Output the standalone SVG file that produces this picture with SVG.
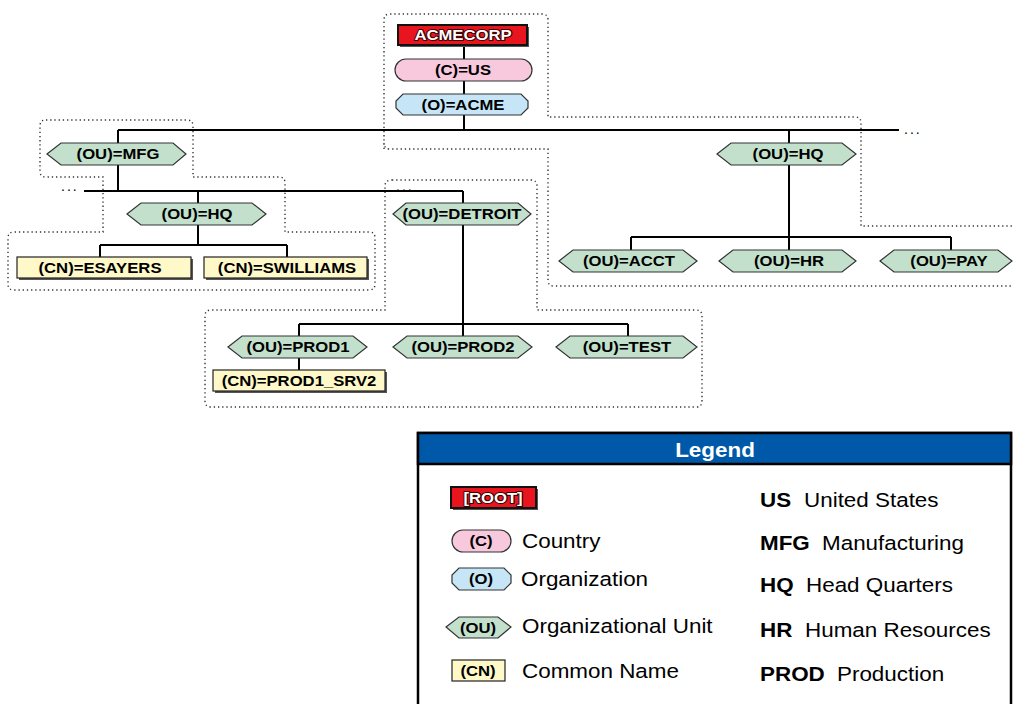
<svg xmlns="http://www.w3.org/2000/svg" width="1013" height="704" viewBox="0 0 1013 704">
<defs>
<style>
.n{font-family:"Liberation Sans",Arial,sans-serif;font-weight:bold;font-size:14.5px;fill:#000;text-anchor:middle}
.r{font-family:"Liberation Sans",Arial,sans-serif;font-weight:bold;font-size:14.5px;fill:#fff;text-anchor:middle;stroke:#300;stroke-width:2;paint-order:stroke;stroke-linejoin:round}
.ou{fill:#c2e0cc;stroke:#333;stroke-width:1.2}
.cn{fill:#fff8c8;stroke:#222;stroke-width:1.2}
.sh{fill:#555}
.c{fill:#f8c9dd;stroke:#333;stroke-width:1.2}
.o{fill:#c6e6f7;stroke:#333;stroke-width:1.2}
.root{fill:#e8141e;stroke:#111;stroke-width:2}
.e{stroke:#000;stroke-width:2;fill:none}
.d{stroke:#333;stroke-width:1.4;fill:none;stroke-dasharray:1.3 2.9}
.dots{font-family:"Liberation Sans",Arial,sans-serif;font-size:14px;fill:#000;letter-spacing:2px}
.lt{font-family:"Liberation Sans",Arial,sans-serif;font-size:19.5px;fill:#000}
.lb{font-family:"Liberation Sans",Arial,sans-serif;font-size:19.5px;font-weight:bold;fill:#000}
</style>
</defs>
<rect width="1013" height="704" fill="#fff"/>

<g id="partitions">
<path class="d" d="M384 149 L384 20 Q384 14 390 14 L542 14 Q548 14 548 20 L548 117 L855 117 Q861 117 861 123 L861 226 L1015 226 M1015 286 L554 286 Q548 286 548 280 L548 149 L390 149 Q384 149 384 143"/>
<path class="d" d="M46 120 L187 120 Q193 120 193 126 L193 177 L279 177 Q285 177 285 183 L285 232 L369 232 Q375 232 375 238 L375 284 Q375 290 369 290 L14 290 Q8 290 8 284 L8 238 Q8 232 14 232 L103 232 L103 177 L46 177 Q40 177 40 171 L40 126 Q40 120 46 120 Z"/>
<path class="d" d="M392 180 L531 180 Q537 180 537 186 L537 310 L696 310 Q702 310 702 316 L702 401 Q702 407 696 407 L211 407 Q205 407 205 401 L205 316 Q205 310 211 310 L385 310 L385 186 Q385 180 392 180 Z"/>
</g>

<g id="connectors">
<path class="e" d="M464 45 V130"/>
<path class="e" d="M118 130 H899"/>
<path class="e" d="M118 130 V143 M118 165 V191"/>
<path class="e" d="M84 191 H463"/>
<path class="e" d="M198 191 V203 M198 225 V245 M100 245 H287 M100 245 V257 M287 245 V257"/>
<path class="e" d="M463 191 V203 M463 225 V336 M299 324 H628 M299 324 V336 M628 324 V336 M299 358 V370"/>
<path class="e" d="M789 130 V143 M789 165 V250 M631 237 H951 M631 237 V250 M951 237 V250"/>
<text class="dots" x="904" y="134">...</text>
<text class="dots" x="61" y="191">...</text>
<text class="dots" x="396" y="191">...</text>
</g>

<g id="acmecorp">
<rect class="sh" x="400" y="27" width="129" height="20"/>
<rect class="root" x="398" y="25" width="129" height="20"/>
<text class="r" transform="translate(463 40) scale(1.15 1)">ACMECORP</text>
</g>
<g id="c-us">
<rect class="c" x="395" y="59" width="137" height="22" rx="11"/>
<text class="n" transform="translate(463 75) scale(1.15 1)">(C)=US</text>
</g>
<g id="o-acme">
<polygon class="o" points="403,94 521,94 528,101 528,108 521,115 403,115 396,108 396,101"/>
<text class="n" transform="translate(463 110) scale(1.15 1)">(O)=ACME</text>
</g>

<g id="ou-mfg">
<polygon class="ou" points="47,154 61,143 173,143 186,154 173,165 61,165"/>
<text class="n" transform="translate(118 159) scale(1.15 1)">(OU)=MFG</text>
</g>
<g id="ou-hq-mfg">
<polygon class="ou" points="127,214 141,203 252,203 266,214 252,225 141,225"/>
<text class="n" transform="translate(197 219) scale(1.15 1)">(OU)=HQ</text>
</g>
<g id="cn-esayers">
<rect class="sh" x="19" y="259" width="174" height="21"/>
<rect class="cn" x="17" y="257" width="174" height="21"/>
<text class="n" transform="translate(100 273) scale(1.15 1)">(CN)=ESAYERS</text>
</g>
<g id="cn-swilliams">
<rect class="sh" x="206" y="259" width="163" height="21"/>
<rect class="cn" x="204" y="257" width="163" height="21"/>
<text class="n" transform="translate(287 273) scale(1.15 1)">(CN)=SWILLIAMS</text>
</g>
<g id="ou-detroit">
<polygon class="ou" points="393,214 406,203 518,203 531,214 518,225 406,225"/>
<text class="n" transform="translate(462 219) scale(1.15 1)">(OU)=DETROIT</text>
</g>
<g id="ou-prod1">
<polygon class="ou" points="228,347 242,336 353,336 367,347 353,358 242,358"/>
<text class="n" transform="translate(298 352) scale(1.15 1)">(OU)=PROD1</text>
</g>
<g id="ou-prod2">
<polygon class="ou" points="393,347 407,336 518,336 532,347 518,358 407,358"/>
<text class="n" transform="translate(463 352) scale(1.15 1)">(OU)=PROD2</text>
</g>
<g id="ou-test">
<polygon class="ou" points="556,347 570,336 683,336 697,347 683,358 570,358"/>
<text class="n" transform="translate(627 352) scale(1.15 1)">(OU)=TEST</text>
</g>
<g id="cn-prod1-srv2">
<rect class="sh" x="215" y="372" width="172" height="21"/>
<rect class="cn" x="213" y="370" width="172" height="21"/>
<text class="n" transform="translate(299 386) scale(1.15 1)">(CN)=PROD1_SRV2</text>
</g>
<g id="ou-hq">
<polygon class="ou" points="717,154 731,143 842,143 856,154 842,165 731,165"/>
<text class="n" transform="translate(788 159) scale(1.15 1)">(OU)=HQ</text>
</g>
<g id="ou-acct">
<polygon class="ou" points="559,261 573,250 683,250 697,261 683,272 573,272"/>
<text class="n" transform="translate(629 266) scale(1.15 1)">(OU)=ACCT</text>
</g>
<g id="ou-hr">
<polygon class="ou" points="719,261 733,250 842,250 856,261 842,272 733,272"/>
<text class="n" transform="translate(789 266) scale(1.15 1)">(OU)=HR</text>
</g>
<g id="ou-pay">
<polygon class="ou" points="880,261 894,250 998,250 1012,261 998,272 894,272"/>
<text class="n" transform="translate(949 266) scale(1.15 1)">(OU)=PAY</text>
</g>

<g id="legend">
<rect x="418" y="433" width="593" height="280" fill="#fff" stroke="#000" stroke-width="2.5"/>
<rect x="418" y="433" width="593" height="31" fill="#0059a8" stroke="#000" stroke-width="2.5"/>
<text class="lb" style="fill:#fff" text-anchor="middle" transform="translate(715 457) scale(1.15 1)">Legend</text>

<rect class="sh" x="453" y="489" width="85" height="21"/>
<rect class="root" x="451" y="487" width="85" height="21"/>
<text class="r" transform="translate(493 503) scale(1.15 1)">[ROOT]</text>

<rect class="c" x="452" y="530" width="59" height="22" rx="11"/>
<text class="n" transform="translate(481 546) scale(1.15 1)">(C)</text>
<text class="lt" transform="translate(522 548) scale(1.15 1)">Country</text>

<polygon class="o" points="459,568 504,568 511,575 511,583 504,590 459,590 452,583 452,575"/>
<text class="n" transform="translate(481 584) scale(1.15 1)">(O)</text>
<text class="lt" transform="translate(521 586) scale(1.15 1)">Organization</text>

<polygon class="ou" points="446,627 459,617 498,617 511,627 498,638 459,638"/>
<text class="n" transform="translate(478 633) scale(1.15 1)">(OU)</text>
<text class="lt" transform="translate(522 633) scale(1.15 1)">Organizational Unit</text>

<rect class="cn" x="452" y="660" width="53" height="21"/>
<text class="n" transform="translate(478 676) scale(1.15 1)">(CN)</text>
<text class="lt" transform="translate(522 678) scale(1.15 1)">Common Name</text>

<text class="lb" transform="translate(760 507) scale(1.15 1)">US</text>
<text class="lt" transform="translate(804 507) scale(1.15 1)">United States</text>
<text class="lb" transform="translate(760 550) scale(1.15 1)">MFG</text>
<text class="lt" transform="translate(822 550) scale(1.15 1)">Manufacturing</text>
<text class="lb" transform="translate(760 592) scale(1.15 1)">HQ</text>
<text class="lt" transform="translate(806 592) scale(1.15 1)">Head Quarters</text>
<text class="lb" transform="translate(760 637) scale(1.15 1)">HR</text>
<text class="lt" transform="translate(805 637) scale(1.15 1)">Human Resources</text>
<text class="lb" transform="translate(760 681) scale(1.15 1)">PROD</text>
<text class="lt" transform="translate(837 681) scale(1.15 1)">Production</text>
</g>
</svg>
